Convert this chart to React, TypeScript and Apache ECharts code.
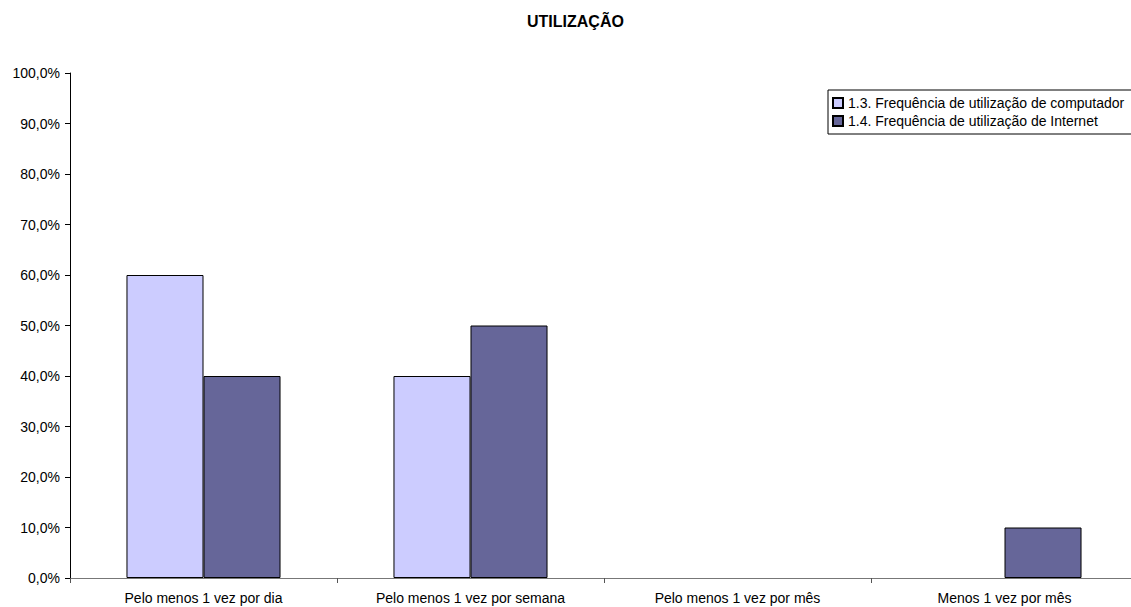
import React, { useEffect, useRef } from "react";
import * as echarts from "echarts";

const categories = [
  "Pelo menos 1 vez por dia",
  "Pelo menos 1 vez por semana",
  "Pelo menos 1 vez por mês",
  "Menos 1 vez por mês",
];
const seriesNames = [
  "1.3. Frequência de utilização de computador",
  "1.4. Frequência de utilização de Internet",
];
const computador = [60, 40, 0, 0];
const internet = [40, 50, 0, 10];

const FONT = "'Liberation Sans', Arial, sans-serif";

// Zero-height bars carry no outline so they don't paint over the axis.
const toBarData = (values: number[]) =>
  values.map((v) => (v === 0 ? { value: 0, itemStyle: { borderWidth: 0 } } : v));

export default function App() {
  const ref = useRef<HTMLDivElement>(null);

  useEffect(() => {
    if (!ref.current) return;
    const chart = echarts.init(ref.current, undefined, { renderer: "svg" });
    chart.setOption({
      animation: false,
      backgroundColor: "#ffffff",
      textStyle: { fontFamily: FONT },
      title: {
        text: "UTILIZAÇÃO",
        left: 522,
        top: 8,
        textStyle: { fontFamily: FONT, fontSize: 16, fontWeight: "bold", color: "#000" },
      },
      legend: {
        orient: "vertical",
        left: 828,
        top: 90,
        padding: [6, 8, 6, 4],
        borderColor: "#000",
        borderWidth: 1,
        borderRadius: 0,
        itemWidth: 10,
        itemHeight: 10,
        itemGap: 4,
        itemTextGap: 5,
        icon: "rect",
        textStyle: { fontFamily: FONT, fontSize: 14, color: "#000", lineHeight: 14 },
        data: seriesNames,
      },
      grid: { left: 70, top: 73, right: 0, bottom: 29, containLabel: false },
      xAxis: {
        type: "category",
        data: categories,
        axisLine: { lineStyle: { color: "#777", width: 1 } },
        axisTick: { show: true, length: 5, inside: false, lineStyle: { color: "#555" } },
        axisLabel: { fontFamily: FONT, fontSize: 14, color: "#000", margin: 13, interval: 0 },
      },
      yAxis: {
        type: "value",
        min: 0,
        max: 100,
        interval: 10,
        splitLine: { show: false },
        axisLine: { show: true, lineStyle: { color: "#000", width: 1 } },
        axisTick: { show: true, length: 5, lineStyle: { color: "#000" } },
        axisLabel: {
          fontFamily: FONT,
          fontSize: 14,
          color: "#000",
          margin: 10,
          formatter: (v: number) => v.toFixed(1).replace(".", ",") + "%",
        },
      },
      series: [
        {
          name: seriesNames[0],
          type: "bar",
          data: toBarData(computador),
          barGap: "0%",
          barCategoryGap: "42.3%",
          itemStyle: { color: "#CCCCFF", borderColor: "#000", borderWidth: 1 },
        },
        {
          name: seriesNames[1],
          type: "bar",
          data: toBarData(internet),
          barGap: "0%",
          barCategoryGap: "42.3%",
          itemStyle: { color: "#666699", borderColor: "#000", borderWidth: 1 },
        },
      ],
    });
    return () => chart.dispose();
  }, []);

  return (
    <div
      style={{
        position: "absolute",
        left: 0,
        top: 0,
        width: 1131,
        height: 607,
        overflow: "hidden",
        background: "#fff",
      }}
    >
      <div ref={ref} style={{ width: 1138, height: 607 }} />
    </div>
  );
}
